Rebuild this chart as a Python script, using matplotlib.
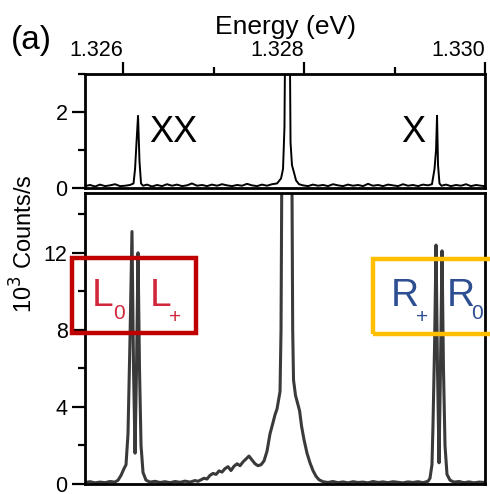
import matplotlib
matplotlib.use("Agg")
import matplotlib.pyplot as plt
from matplotlib.patches import Rectangle
from matplotlib.ticker import MultipleLocator

plt.rcParams["font.family"] = ["Liberation Sans", "DejaVu Sans"]

# ── Data ─────────────────────────────────────────────────────────────────────
# top panel: XX / X lines (10^3 counts/s vs energy in eV)
E_top = [1.325580, 1.325635, 1.325691, 1.325746, 1.325801, 1.325856, 1.325912,
         1.325967, 1.326022, 1.326077, 1.326116, 1.326133, 1.326149, 1.326166,
         1.326182, 1.326199, 1.326221, 1.326265, 1.326320, 1.326376, 1.326431,
         1.326486, 1.326541, 1.326597, 1.326652, 1.326707, 1.326762, 1.326818,
         1.326873, 1.326928, 1.326983, 1.327039, 1.327094, 1.327149, 1.327204,
         1.327260, 1.327315, 1.327370, 1.327425, 1.327481, 1.327536, 1.327591,
         1.327646, 1.327702, 1.327746, 1.327768, 1.327784, 1.327795, 1.327818,
         1.327840, 1.327851, 1.327867, 1.327890, 1.327912, 1.327945, 1.327989,
         1.328044, 1.328099, 1.328155, 1.328210, 1.328265, 1.328320, 1.328376,
         1.328431, 1.328486, 1.328541, 1.328597, 1.328652, 1.328707, 1.328762,
         1.328818, 1.328873, 1.328928, 1.328983, 1.329039, 1.329094, 1.329149,
         1.329204, 1.329260, 1.329315, 1.329370, 1.329414, 1.329442, 1.329459,
         1.329470, 1.329481, 1.329497, 1.329519, 1.329569, 1.329624, 1.329680,
         1.329735, 1.329790, 1.329845, 1.329901, 1.329956, 1.330000]
C_top = [0.05, 0.08, 0.04, 0.09, 0.05, 0.07, 0.10, 0.05, 0.06, 0.08, 0.12, 0.50,
         1.20, 1.90, 0.70, 0.12, 0.06, 0.09, 0.04, 0.08, 0.05, 0.10, 0.06, 0.09,
         0.05, 0.07, 0.12, 0.06, 0.08, 0.05, 0.09, 0.06, 0.10, 0.07, 0.05, 0.08,
         0.06, 0.11, 0.07, 0.05, 0.09, 0.06, 0.10, 0.12, 0.25, 0.50, 1.60, 5.00,
         40.0, 5.00, 1.20, 0.60, 0.40, 0.20, 0.10, 0.07, 0.05, 0.09, 0.06, 0.08,
         0.05, 0.10, 0.07, 0.05, 0.09, 0.06, 0.08, 0.05, 0.11, 0.06, 0.08, 0.05,
         0.09, 0.07, 0.05, 0.10, 0.06, 0.08, 0.05, 0.09, 0.07, 0.10, 0.50, 1.00,
         1.90, 0.60, 0.12, 0.06, 0.09, 0.05, 0.08, 0.06, 0.10, 0.05, 0.08, 0.06,
         0.05]

# bottom panel: L0/L+ and R+/R0 doublets + central line
E_bot = [1.325580, 1.325635, 1.325691, 1.325746, 1.325801, 1.325856, 1.325912,
         1.325945, 1.325978, 1.326011, 1.326033, 1.326055, 1.326077, 1.326099,
         1.326116, 1.326133, 1.326149, 1.326166, 1.326182, 1.326199, 1.326221,
         1.326254, 1.326298, 1.326354, 1.326409, 1.326464, 1.326519, 1.326575,
         1.326630, 1.326685, 1.326740, 1.326796, 1.326829, 1.326862, 1.326895,
         1.326928, 1.326961, 1.326995, 1.327028, 1.327061, 1.327094, 1.327127,
         1.327160, 1.327193, 1.327226, 1.327260, 1.327293, 1.327326, 1.327359,
         1.327392, 1.327425, 1.327459, 1.327492, 1.327525, 1.327558, 1.327591,
         1.327624, 1.327658, 1.327680, 1.327702, 1.327735, 1.327746, 1.327754,
         1.327812, 1.327867, 1.327875, 1.327884, 1.327906, 1.327951, 1.327973,
         1.328000, 1.328033, 1.328066, 1.328099, 1.328133, 1.328166, 1.328210,
         1.328265, 1.328320, 1.328376, 1.328431, 1.328486, 1.328541, 1.328597,
         1.328652, 1.328707, 1.328762, 1.328818, 1.328873, 1.328928, 1.328983,
         1.329039, 1.329094, 1.329149, 1.329204, 1.329260, 1.329315, 1.329370,
         1.329392, 1.329414, 1.329425, 1.329442, 1.329459, 1.329475, 1.329492,
         1.329508, 1.329525, 1.329541, 1.329558, 1.329580, 1.329613, 1.329657,
         1.329713, 1.329768, 1.329823, 1.329879, 1.329934, 1.330000]
C_bot = [0.08, 0.12, 0.06, 0.10, 0.07, 0.13, 0.10, 0.20, 0.45, 0.80, 1.00, 2.60,
         7.50, 13.1, 6.00, 1.60, 6.00, 12.0, 6.00, 2.00, 0.60, 0.20, 0.10, 0.14,
         0.08, 0.12, 0.07, 0.13, 0.09, 0.15, 0.10, 0.18, 0.14, 0.22, 0.30, 0.26,
         0.45, 0.55, 0.50, 0.68, 0.62, 0.80, 0.90, 0.70, 0.92, 1.05, 0.95, 1.15,
         1.30, 1.45, 1.25, 1.05, 0.95, 1.00, 1.20, 1.70, 2.60, 3.20, 3.60, 3.90,
         4.80, 8.00, 15.5, 60.0, 15.5, 8.00, 5.40, 4.60, 3.80, 3.00, 2.30, 1.60,
         1.10, 0.70, 0.40, 0.22, 0.12, 0.08, 0.13, 0.07, 0.11, 0.06, 0.12, 0.08,
         0.10, 0.06, 0.13, 0.08, 0.11, 0.07, 0.12, 0.09, 0.06, 0.11, 0.08, 0.12,
         0.07, 0.14, 0.30, 1.00, 3.00, 7.00, 12.4, 6.00, 1.10, 6.00, 12.1, 6.00,
         2.00, 0.50, 0.20, 0.10, 0.13, 0.07, 0.11, 0.06, 0.10, 0.08]

E_LIM = (1.32558, 1.33000)
E_TICKS = [1.326, 1.328, 1.330]
E_TICKLABELS = ["1.326", "1.328", "1.330"]

LINE = "#3a3a3a"
RED = "#d0283a"
BLUE = "#2d4e91"

fig = plt.figure(figsize=(4.9, 4.94), dpi=100)
ax_t = fig.add_axes([0.1735, 0.6194, 0.8163, 0.2308])
ax_b = fig.add_axes([0.1735, 0.0202, 0.8163, 0.5891])

for ax in (ax_t, ax_b):
    ax.set_xlim(*E_LIM)
    for s in ax.spines.values():
        s.set_linewidth(2.0)
    ax.tick_params(axis="y", which="major", length=9.5, width=1.6, labelsize=15.5, pad=3)
    ax.tick_params(axis="y", which="minor", length=5, width=1.6)

# ── top panel ────────────────────────────────────────────────────────────────
ax_t.plot(E_top, C_top, color="black", lw=1.4)
ax_t.set_ylim(0, 3)
ax_t.set_yticks([0, 2])
ax_t.yaxis.set_minor_locator(MultipleLocator(1))
ax_t.xaxis.tick_top()
ax_t.xaxis.set_label_position("top")
ax_t.set_xticks(E_TICKS, E_TICKLABELS)
for lab in ax_t.get_xticklabels():
    lab.set_ha("right")     # Igor-style: labels sit left of their tick
ax_t.xaxis.set_minor_locator(MultipleLocator(0.001))
ax_t.tick_params(axis="x", which="major", length=8.5, width=1.6, labelsize=15.5, pad=1)
ax_t.tick_params(axis="x", which="minor", length=5, width=1.6)
ax_t.set_xlabel("Energy (eV)", fontsize=19, labelpad=4)
ax_t.text(1.32629, 1.45, "XX", fontsize=26, ha="left", va="center")
ax_t.text(1.32934, 1.45, "X", fontsize=26, ha="right", va="center")

# ── bottom panel ─────────────────────────────────────────────────────────────
ax_b.plot(E_bot, C_bot, color=LINE, lw=2.2)
ax_b.set_ylim(0, 15.1)
ax_b.set_yticks([0, 4, 8, 12])
ax_b.yaxis.set_minor_locator(MultipleLocator(2))
ax_b.set_xticks([])
ax_b.xaxis.set_minor_locator(plt.NullLocator())

fig.text(0.049, 0.506, "10$^3$ Counts/s", rotation=90, fontsize=17,
         ha="center", va="center")
fig.text(0.022, 0.918, "(a)", fontsize=24, ha="left", va="center")

# highlight boxes
fig.patches.append(Rectangle((0.147, 0.326), 0.253, 0.152, transform=fig.transFigure,
                             fill=False, ec="#c00000", lw=3.2, figure=fig))
fig.patches.append(Rectangle((0.761, 0.324), 0.26, 0.152, transform=fig.transFigure,
                             fill=False, ec="#ffbf00", lw=3.2, figure=fig))

fig.text(0.187, 0.40, "L", fontsize=28, color=RED, ha="left", va="center")
fig.text(0.230, 0.365, "0", fontsize=15, color=RED, ha="left", va="center")
fig.text(0.305, 0.40, "L", fontsize=28, color=RED, ha="left", va="center")
fig.text(0.345, 0.358, "+", fontsize=15, color=RED, ha="left", va="center")
fig.text(0.797, 0.40, "R", fontsize=28, color=BLUE, ha="left", va="center")
fig.text(0.848, 0.358, "+", fontsize=15, color=BLUE, ha="left", va="center")
fig.text(0.912, 0.40, "R", fontsize=28, color=BLUE, ha="left", va="center")
fig.text(0.962, 0.365, "0", fontsize=15, color=BLUE, ha="left", va="center")

fig.savefig("out.png", dpi=100)
